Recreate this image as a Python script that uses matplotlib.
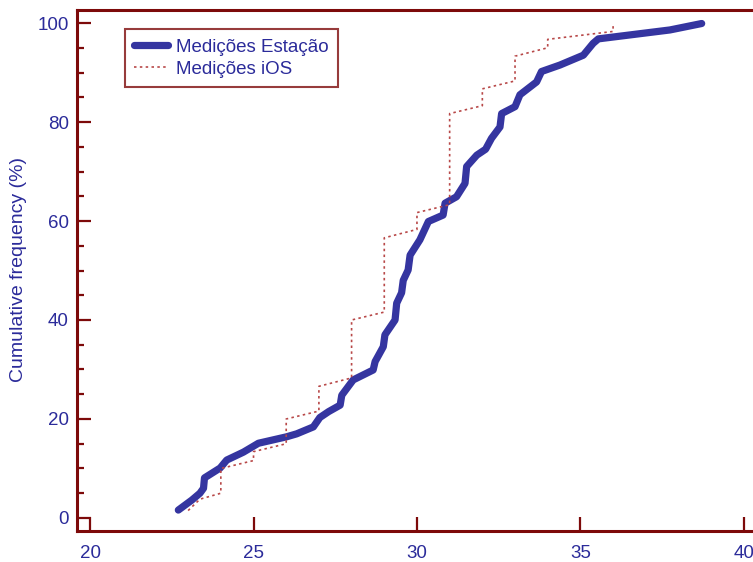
import numpy as np
import matplotlib
matplotlib.use('Agg')
import matplotlib.pyplot as plt
from matplotlib.ticker import MultipleLocator

estacao_x = [22.70, 23.11, 23.36, 23.47, 23.50, 23.98, 24.18, 24.69, 25.15, 26.01,
             26.32, 26.83, 27.03, 27.30, 27.65, 27.70, 28.05, 28.66, 28.72, 28.97,
             29.02, 29.33, 29.38, 29.53, 29.58, 29.73, 29.79, 30.09, 30.35, 30.80,
             30.86, 31.21, 31.47, 31.52, 31.83, 32.10, 32.28, 32.54, 32.59, 33.00,
             33.15, 33.66, 33.81, 34.37, 35.09, 35.39, 35.55, 37.74, 38.71]
estacao_y = [1.6, 3.6, 5.0, 6.0, 8.1, 10.1, 11.7, 13.3, 15.1, 16.4,
             17.0, 18.4, 20.3, 21.5, 22.8, 24.8, 27.9, 29.9, 31.6, 34.6,
             37.0, 40.0, 43.4, 45.5, 48.0, 50.1, 53.1, 56.2, 59.9, 61.2,
             63.6, 64.9, 67.6, 71.0, 73.3, 74.5, 76.7, 79.0, 81.7, 83.1,
             85.5, 88.1, 90.2, 91.5, 93.5, 95.9, 96.8, 98.6, 99.9]

# Medições iOS
ios_x = [23.0, 23.36, 24, 24, 25, 25, 26, 26, 27, 27, 28, 28, 29, 29,
         30, 30, 31, 31, 32, 32, 33, 33, 34, 34, 36, 36]
ios_y = [1.5, 3.8, 5.0, 10.0, 11.6, 13.4, 15.0, 20.0, 21.6, 26.6, 28.3, 40.0, 41.6, 56.6,
         58.3, 61.7, 63.3, 81.7, 83.3, 86.7, 88.3, 93.3, 95.0, 96.7, 98.3, 100.0]

xticks = [20, 25, 30, 35, 40]
yticks = [0, 20, 40, 60, 80, 100]

spine_col = '#7d0a0a'
text_col = '#2b2b9a'
blue = '#3535a0'
red = '#b84848'

plt.rcParams.update({
    'font.family': ['Liberation Sans', 'DejaVu Sans'],
    'font.size': 13.5,
})

fig = plt.figure(figsize=(7.53, 5.62), dpi=100)
ax = fig.add_axes([77/753, 31/562, 1 - 77/753, (531 - 10)/562])

ax.plot(estacao_x, estacao_y, color=blue, linewidth=5.2,
        solid_capstyle='round', solid_joinstyle='round',
        label='Medições Estação')
ax.plot(ios_x, ios_y, color=red, linewidth=1.2, linestyle=(0, (1.5, 2)),
        label='Medições iOS')

ax.set_xlim(19.60, 40.28)
ax.set_ylim(-2.63, 102.63)
ax.set_xticks(xticks)
ax.set_yticks(yticks)
ax.yaxis.set_minor_locator(MultipleLocator(5))

for s in ['left', 'bottom', 'top']:
    ax.spines[s].set_color(spine_col)
    ax.spines[s].set_linewidth(2.2)
ax.spines['right'].set_visible(False)

ax.tick_params(axis='both', which='major', direction='in', length=10, width=1.6,
               color=spine_col, labelcolor=text_col, labelsize=13.5)
ax.tick_params(axis='y', which='minor', direction='in', length=5, width=1.6,
               color=spine_col)
ax.tick_params(axis='x', pad=10)
ax.tick_params(axis='y', pad=6)

fig.text(19/753, 1 - 270/562, 'Cumulative frequency (%)', rotation=90,
         ha='center', va='center', color=text_col, fontsize=14)

leg = ax.legend(loc='upper left', bbox_to_anchor=((125 - 77)/676, (531 - 29)/521),
                borderaxespad=0, fancybox=False, handlelength=1.8,
                handletextpad=0.4, labelspacing=0.28, borderpad=0.5, fontsize=13.5)
leg.get_frame().set_edgecolor(spine_col)
leg.get_frame().set_linewidth(1.5)
for t in leg.get_texts():
    t.set_color(text_col)

fig.savefig('out.png', dpi=100)
